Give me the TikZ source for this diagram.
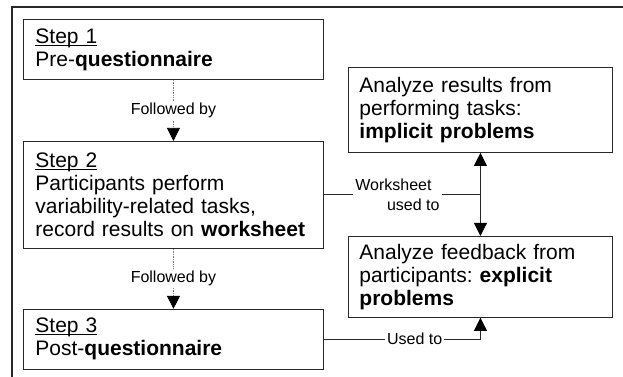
\documentclass[tikz,border=0pt]{standalone}
\usepackage{fontspec}
\setmainfont{Liberation Sans}
\usetikzlibrary{arrows.meta, positioning, calc}
\definecolor{boxgray}{RGB}{40, 40, 40}
\definecolor{dotgray}{RGB}{125, 125, 125}
\frenchspacing
\newcommand{\steptitle}[1]{\leavevmode\setbox0\hbox{#1}\rlap{\rule[-2.4pt]{\wd0}{0.9pt}}\box0}
\tikzset{
  stepbox/.style={draw=boxgray, line width=0.9pt, text width=276pt, inner xsep=12pt, inner ysep=3pt, align=left, font=\fontsize{21}{23}\selectfont},
  resultbox/.style={stepbox, text width=242pt, inner xsep=11pt},
  solidtip/.style={-{Triangle[length=13pt, width=13pt, color=black]}},
  followed/.style={draw=dotgray, densely dotted, line width=0.7pt, solidtip},
  usedto/.style={draw=boxgray, line width=0.9pt},
  linklabel/.style={fill=white, inner sep=2pt, font=\fontsize{16}{20}\selectfont},
}

\begin{document}
\begin{tikzpicture}[x=1pt, y=-1pt]
  \useasboundingbox (0,0) rectangle (623,377);
  % page frame
  \draw[boxgray, line width=1.3pt] (623,7) -- (12,7) -- (12,377);

  % the three steps
  \node[stepbox, minimum height=60pt, anchor=north west] (s1) at (23,19) {\steptitle{Step 1}\\Pre-\textbf{questionnaire}};
  \node[stepbox, minimum height=107pt, below=61pt of s1] (s2) {\steptitle{Step 2}\\Participants perform\\variability-related tasks,\\record results on \textbf{worksheet}};
  \node[stepbox, minimum height=60pt, below=60pt of s2] (s3) {\steptitle{Step 3}\\Post-\textbf{questionnaire}};

  % analysis
  \node[resultbox, minimum height=85pt, anchor=north west] (imp) at (348,67) {Analyze results from\\performing tasks:\\\textbf{implicit problems}};
  \node[resultbox, minimum height=81pt, below=83pt of imp] (exp) {Analyze feedback from\\participants: \textbf{explicit}\\\textbf{problems}};

  \draw[followed] (s1) -- node[linklabel] {Followed by} (s2);
  \draw[followed] (s2) -- node[linklabel] {Followed by} (s3);

  \coordinate (fork) at (s2.east -| imp.south);
  \draw[usedto] (s2.east) -- node[linklabel, align=right, pos=0.47] {Worksheet\kern8pt\\used to} (fork);
  \draw[usedto, solidtip] (fork) -- (imp.south);
  \draw[usedto, solidtip] (fork) -- (exp.north);
  \draw[usedto, solidtip] (s3.east) -| node[linklabel, pos=0.29] {Used to} (exp.south);
\end{tikzpicture}
\end{document}
